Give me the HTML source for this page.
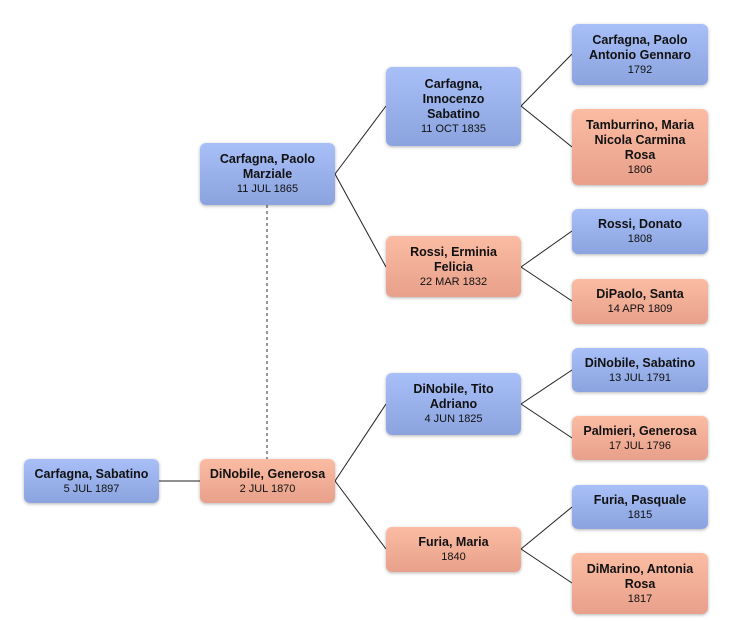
<!DOCTYPE html>
<html><head><meta charset="utf-8"><style>
body{margin:0;width:732px;height:638px;background:#fff;position:relative;font-family:"Liberation Sans",sans-serif;overflow:hidden}
.b{position:absolute;border-radius:6px;box-shadow:0 1px 3px rgba(0,0,0,.3);display:flex;flex-direction:column;justify-content:center;align-items:center;text-align:center;color:#111;line-height:15px}
.m{background:linear-gradient(#a8bff8,#8ba3de)}
.f{background:linear-gradient(#fbbca3,#e8a08b)}
.n{font-weight:bold;font-size:12.5px}
.d{font-size:11px;line-height:14px}
svg{position:absolute;left:0;top:0}
</style></head><body>
<svg width="732" height="638">
<g stroke="#222" stroke-width="1" fill="none">
<line x1="159" y1="481" x2="200" y2="481"/>
<line x1="335" y1="174" x2="386" y2="106"/><line x1="335" y1="174" x2="386" y2="267"/>
<line x1="335" y1="481" x2="386" y2="404"/><line x1="335" y1="481" x2="386" y2="549"/>
<line x1="521" y1="106" x2="572" y2="54"/><line x1="521" y1="106" x2="572" y2="147"/>
<line x1="521" y1="267" x2="572" y2="231"/><line x1="521" y1="267" x2="572" y2="301"/>
<line x1="521" y1="404" x2="572" y2="370"/><line x1="521" y1="404" x2="572" y2="438"/>
<line x1="521" y1="549" x2="572" y2="507"/><line x1="521" y1="549" x2="572" y2="583"/>
</g>
<line x1="267" y1="205" x2="267" y2="459" stroke="#777" stroke-width="1.5" stroke-dasharray="3,3"/>
</svg>
<div class="b m" style="left:24px;top:459px;width:135px;height:44px"><div class="n">Carfagna, Sabatino</div><div class="d">5 JUL 1897</div></div>
<div class="b f" style="left:200px;top:459px;width:135px;height:44px"><div class="n">DiNobile, Generosa</div><div class="d">2 JUL 1870</div></div>
<div class="b m" style="left:200px;top:143px;width:135px;height:62px"><div class="n">Carfagna, Paolo<br>Marziale</div><div class="d">11 JUL 1865</div></div>
<div class="b m" style="left:386px;top:67px;width:135px;height:79px"><div class="n">Carfagna,<br>Innocenzo<br>Sabatino</div><div class="d">11 OCT 1835</div></div>
<div class="b f" style="left:386px;top:236px;width:135px;height:61px"><div class="n">Rossi, Erminia<br>Felicia</div><div class="d">22 MAR 1832</div></div>
<div class="b m" style="left:386px;top:373px;width:135px;height:62px"><div class="n">DiNobile, Tito<br>Adriano</div><div class="d">4 JUN 1825</div></div>
<div class="b f" style="left:386px;top:527px;width:135px;height:45px"><div class="n">Furia, Maria</div><div class="d">1840</div></div>
<div class="b m" style="left:572px;top:24px;width:136px;height:61px"><div class="n">Carfagna, Paolo<br>Antonio Gennaro</div><div class="d">1792</div></div>
<div class="b f" style="left:572px;top:109px;width:136px;height:76px"><div class="n">Tamburrino, Maria<br>Nicola Carmina<br>Rosa</div><div class="d">1806</div></div>
<div class="b m" style="left:572px;top:209px;width:136px;height:45px"><div class="n">Rossi, Donato</div><div class="d">1808</div></div>
<div class="b f" style="left:572px;top:279px;width:136px;height:45px"><div class="n">DiPaolo, Santa</div><div class="d">14 APR 1809</div></div>
<div class="b m" style="left:572px;top:348px;width:136px;height:44px"><div class="n">DiNobile, Sabatino</div><div class="d">13 JUL 1791</div></div>
<div class="b f" style="left:572px;top:416px;width:136px;height:44px"><div class="n">Palmieri, Generosa</div><div class="d">17 JUL 1796</div></div>
<div class="b m" style="left:572px;top:485px;width:136px;height:44px"><div class="n">Furia, Pasquale</div><div class="d">1815</div></div>
<div class="b f" style="left:572px;top:553px;width:136px;height:61px"><div class="n">DiMarino, Antonia<br>Rosa</div><div class="d">1817</div></div>
</body></html>
